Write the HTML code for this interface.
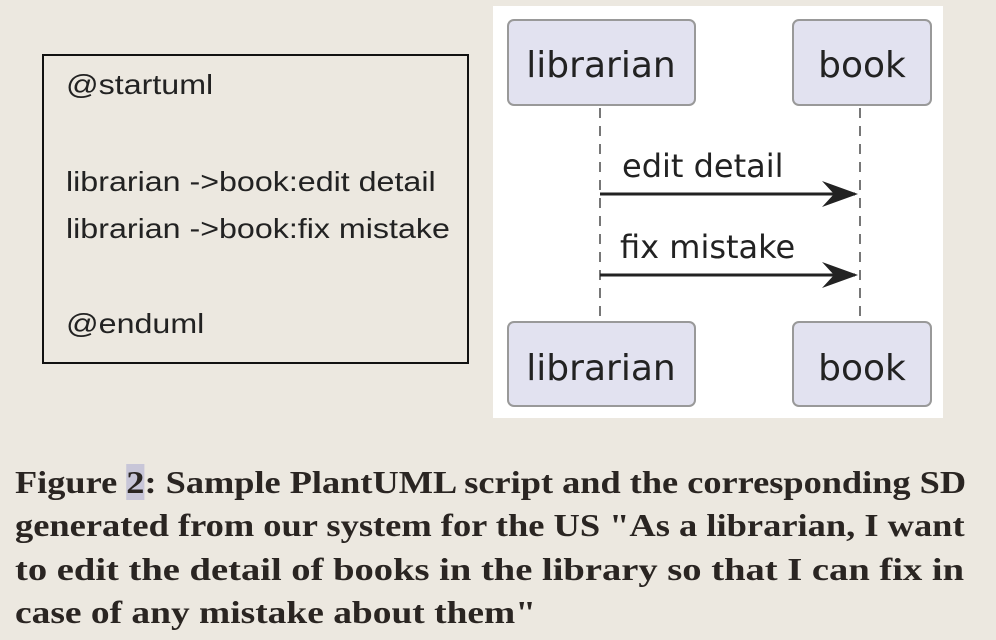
<!DOCTYPE html>
<html><head><style>
body{margin:0;width:996px;height:640px;background:#ece8e0;position:relative;overflow:hidden;font-family:"Liberation Sans",sans-serif}
.code{position:absolute;left:42px;top:54px;width:423px;height:306px;border:2px solid #111;background:#ece8e0}
.code div{position:absolute;left:22px;font-size:28px;color:#222;white-space:nowrap;transform:scaleX(1.15);transform-origin:0 0}
.cap{position:absolute;left:15px;font-family:"Liberation Serif",serif;font-weight:bold;font-size:32px;color:#2a2522;white-space:nowrap;transform-origin:0 0}
</style></head><body>
<div class="code">
<div style="top:13px">@startuml</div>
<div style="top:110px">librarian -&gt;book:edit detail</div>
<div style="top:157px">librarian -&gt;book:fix mistake</div>
<div style="top:252px">@enduml</div>
</div>
<svg style="position:absolute;left:0;top:0" width="996" height="640">
<rect x="493" y="6" width="450" height="412" fill="#fff"/>
<g fill="#e2e2f0" stroke="#999" stroke-width="2">
<rect x="508" y="20" width="187" height="85" rx="6"/>
<rect x="793" y="20" width="138" height="85" rx="6"/>
<rect x="508" y="322" width="187" height="84" rx="6"/>
<rect x="793" y="322" width="138" height="84" rx="6"/>
</g>
<g stroke="#777" stroke-width="2" stroke-dasharray="10,8">
<line x1="600" y1="108" x2="600" y2="320"/>
<line x1="860" y1="108" x2="860" y2="320"/>
</g>
<g stroke="#222" stroke-width="3" fill="none">
<line x1="600" y1="194" x2="855" y2="194"/>
<line x1="600" y1="275" x2="855" y2="275"/>
</g>
<path d="M822 181 L858 194 L822 207 L834 194 Z" fill="#222"/>
<path d="M822 262 L858 275 L822 288 L834 275 Z" fill="#222"/>
<g font-family="DejaVu Sans, sans-serif" font-size="36" fill="#222" text-anchor="middle">
<text x="601" y="77">librarian</text>
<text x="862" y="77">book</text>
<text x="601" y="380">librarian</text>
<text x="862" y="380">book</text>
</g>
<g font-family="DejaVu Sans, sans-serif" font-size="32" fill="#222">
<text x="622" y="177">edit detail</text>
<text x="620" y="258">fix mistake</text>
</g>
</svg>
<div class="cap" style="top:464px;transform:scaleX(1.135)">Figure <span style="background:#c8c6d8">2</span>: Sample PlantUML script and the corresponding SD</div>
<div class="cap" style="top:507px;transform:scaleX(1.139)">generated from our system for the US "As a librarian, I want</div>
<div class="cap" style="top:551px;transform:scaleX(1.205)">to edit the detail of books in the library so that I can fix in</div>
<div class="cap" style="top:594px;transform:scaleX(1.17)">case of any mistake about them"</div>
</body></html>
